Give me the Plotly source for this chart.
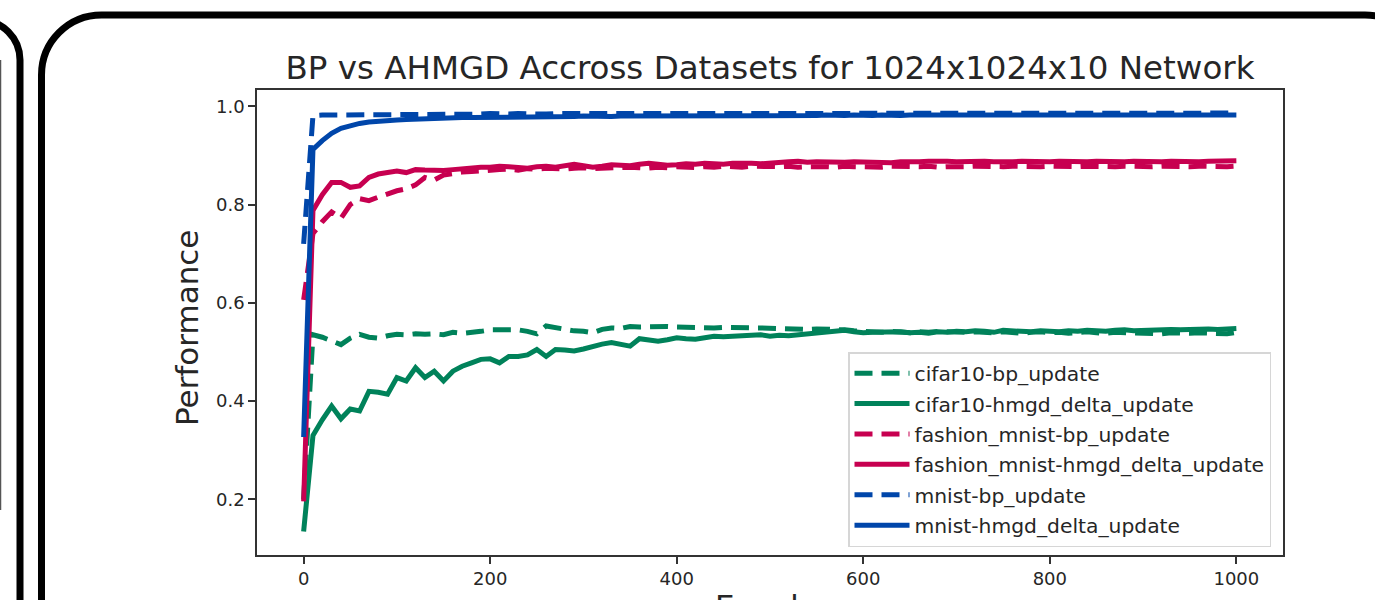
import plotly.graph_objects as go

# ---------------- data ----------------
EPOCHS = list(range(0, 1001, 10))

cifar10_bp = [
    0.200, 0.535, 0.530, 0.522, 0.515, 0.528, 0.536, 0.530, 0.528, 0.533, 0.536,
    0.535, 0.537, 0.536, 0.537, 0.535, 0.540, 0.538, 0.539, 0.542, 0.545,
    0.545, 0.546, 0.545, 0.542, 0.537, 0.553, 0.549, 0.545, 0.543, 0.542,
    0.539, 0.546, 0.549, 0.548, 0.552, 0.551, 0.552, 0.551, 0.552, 0.551,
    0.550, 0.551, 0.550, 0.549, 0.550, 0.549, 0.548, 0.549, 0.549, 0.548,
    0.547, 0.548, 0.547, 0.546, 0.547, 0.547, 0.546, 0.545, 0.543, 0.542,
    0.541, 0.540, 0.542, 0.540, 0.539, 0.541, 0.540, 0.542, 0.541, 0.539,
    0.540, 0.541, 0.540, 0.539, 0.541, 0.540, 0.538, 0.540, 0.541, 0.539,
    0.540, 0.538, 0.539, 0.541, 0.539, 0.538, 0.540, 0.539, 0.538, 0.539,
    0.538, 0.537, 0.539, 0.538, 0.538, 0.539, 0.538, 0.539, 0.537, 0.540,
]
cifar10_hmgd = [
    0.135, 0.330, 0.362, 0.390, 0.364, 0.384, 0.380, 0.420, 0.418, 0.414, 0.448,
    0.441, 0.468, 0.448, 0.461, 0.441, 0.461, 0.471, 0.478, 0.485, 0.486,
    0.478, 0.491, 0.491, 0.494, 0.505, 0.491, 0.505, 0.504, 0.502, 0.506,
    0.512, 0.516, 0.519, 0.515, 0.512, 0.527, 0.524, 0.522, 0.525, 0.529,
    0.527, 0.526, 0.529, 0.532, 0.531, 0.532, 0.533, 0.532, 0.535, 0.532,
    0.534, 0.533, 0.535, 0.536, 0.537, 0.539, 0.541, 0.544, 0.541, 0.539,
    0.540, 0.541, 0.542, 0.541, 0.539, 0.540, 0.538, 0.541, 0.540, 0.542,
    0.541, 0.543, 0.542, 0.540, 0.544, 0.543, 0.542, 0.541, 0.543, 0.542,
    0.541, 0.543, 0.542, 0.544, 0.543, 0.542, 0.544, 0.545, 0.543, 0.544,
    0.545, 0.544, 0.546, 0.545, 0.546, 0.545, 0.547, 0.546, 0.548, 0.548,
]
fashion_mnist_bp = [
    0.606, 0.741, 0.765, 0.785, 0.772, 0.800, 0.812, 0.808, 0.815, 0.822, 0.828,
    0.832, 0.840, 0.855, 0.850, 0.860, 0.864, 0.866, 0.867, 0.869, 0.870,
    0.871, 0.872, 0.870, 0.873, 0.872, 0.874, 0.873, 0.872, 0.874, 0.875,
    0.873, 0.874, 0.875, 0.874, 0.876, 0.875, 0.874, 0.876, 0.875, 0.877,
    0.876, 0.875, 0.877, 0.876, 0.878, 0.877, 0.876, 0.878, 0.877, 0.876,
    0.877, 0.878, 0.876, 0.877, 0.878, 0.877, 0.876, 0.878, 0.877, 0.876,
    0.877, 0.876, 0.878, 0.877, 0.876, 0.877, 0.878, 0.876, 0.877, 0.876,
    0.877, 0.878, 0.877, 0.876, 0.877, 0.878, 0.877, 0.876, 0.877, 0.878,
    0.877, 0.876, 0.877, 0.878, 0.877, 0.876, 0.877, 0.878, 0.877, 0.876,
    0.877, 0.878, 0.877, 0.876, 0.877, 0.878, 0.877, 0.876, 0.877, 0.878,
]
fashion_mnist_hmgd = [
    0.196, 0.788, 0.820, 0.845, 0.845, 0.835, 0.838, 0.855, 0.862, 0.866, 0.868,
    0.865, 0.871, 0.870, 0.869, 0.869, 0.871, 0.873, 0.875, 0.876, 0.876,
    0.878, 0.877, 0.876, 0.874, 0.877, 0.878, 0.876, 0.880, 0.882, 0.879,
    0.876, 0.878, 0.881, 0.880, 0.879, 0.882, 0.884, 0.882, 0.880, 0.881,
    0.883, 0.882, 0.884, 0.883, 0.882, 0.884, 0.885, 0.884, 0.883, 0.885,
    0.886, 0.887, 0.888, 0.886, 0.887, 0.886, 0.885, 0.886, 0.887, 0.886,
    0.887, 0.886, 0.885, 0.887, 0.886, 0.887, 0.888, 0.889, 0.888, 0.887,
    0.888, 0.887, 0.888, 0.887, 0.886, 0.887, 0.888, 0.887, 0.886, 0.887,
    0.888, 0.887, 0.886, 0.887, 0.888, 0.887, 0.886, 0.887, 0.888, 0.887,
    0.886, 0.887, 0.888, 0.887, 0.888, 0.887, 0.888, 0.889, 0.888, 0.889,
]
mnist_bp = [
    0.720, 0.981, 0.982, 0.982, 0.983, 0.982, 0.983, 0.983, 0.982, 0.983, 0.983,
    0.984, 0.983, 0.984, 0.983, 0.984, 0.984, 0.983, 0.984, 0.984, 0.985,
    0.984, 0.984, 0.985, 0.984, 0.985, 0.984, 0.985, 0.985, 0.984, 0.985,
    0.985, 0.984, 0.985, 0.985, 0.984, 0.985, 0.985, 0.986, 0.985, 0.985,
    0.985, 0.986, 0.985, 0.985, 0.986, 0.985, 0.986, 0.985, 0.986, 0.985,
    0.986, 0.985, 0.986, 0.986, 0.985, 0.986, 0.986, 0.985, 0.986, 0.986,
    0.985, 0.986, 0.986, 0.985, 0.986, 0.986, 0.986, 0.985, 0.986, 0.986,
    0.986, 0.985, 0.986, 0.986, 0.986, 0.985, 0.986, 0.986, 0.985, 0.986,
    0.986, 0.986, 0.985, 0.986, 0.986, 0.986, 0.985, 0.986, 0.986, 0.986,
    0.985, 0.986, 0.986, 0.986, 0.985, 0.986, 0.986, 0.986, 0.985, 0.986,
]
mnist_hmgd = [
    0.327, 0.912, 0.930, 0.945, 0.955, 0.961, 0.965, 0.968, 0.970, 0.971, 0.972,
    0.973, 0.974, 0.975, 0.975, 0.976, 0.976, 0.977, 0.977, 0.977, 0.978,
    0.978, 0.978, 0.979, 0.978, 0.979, 0.979, 0.978, 0.979, 0.979, 0.980,
    0.979, 0.980, 0.979, 0.980, 0.980, 0.979, 0.980, 0.980, 0.981, 0.980,
    0.980, 0.981, 0.980, 0.981, 0.981, 0.980, 0.981, 0.981, 0.980, 0.981,
    0.981, 0.981, 0.980, 0.981, 0.981, 0.982, 0.981, 0.981, 0.982, 0.981,
    0.981, 0.982, 0.981, 0.981, 0.982, 0.981, 0.982, 0.982, 0.981, 0.982,
    0.982, 0.981, 0.982, 0.982, 0.981, 0.982, 0.982, 0.982, 0.981, 0.982,
    0.982, 0.982, 0.981, 0.982, 0.982, 0.982, 0.981, 0.982, 0.982, 0.982,
    0.982, 0.981, 0.982, 0.982, 0.982, 0.982, 0.981, 0.982, 0.982, 0.982,
]

SERIES_NAMES = [
    "cifar10-bp_update", "cifar10-hmgd_delta_update",
    "fashion_mnist-bp_update", "fashion_mnist-hmgd_delta_update",
    "mnist-bp_update", "mnist-hmgd_delta_update",
]
SERIES_VALUES = [cifar10_bp, cifar10_hmgd, fashion_mnist_bp,
                 fashion_mnist_hmgd, mnist_bp, mnist_hmgd]

TITLE = "BP vs AHMGD Accross Datasets for 1024x1024x10 Network"
X_LABEL = "Epochs"
Y_LABEL = "Performance"
X_TICKS = [0, 200, 400, 600, 800, 1000]
Y_TICKS = [0.2, 0.4, 0.6, 0.8, 1.0]

# ---------------- style ----------------
W, H = 1375, 600
PL, PR, PT, PB = 257, 1283, 90, 555  # plot area in pixels
GREEN, RED, BLUE = "#00825A", "#C70050", "#0046AA"
COLORS = [GREEN, GREEN, RED, RED, BLUE, BLUE]
DASHES = ["18px,9px", "solid"] * 3
FONT = "DejaVu Sans"
TXT = "#262626"


def fx(px):
    return (px - PL) / (PR - PL)


def fy(py):
    return (PB - py) / (PB - PT)


fig = go.Figure()
for i, (name, vals) in enumerate(zip(SERIES_NAMES, SERIES_VALUES)):
    n = min(len(EPOCHS), len(vals))
    fig.add_trace(go.Scatter(
        x=EPOCHS[:n], y=vals[:n], mode="lines", name=name,
        legendgroup=name,
        line=dict(color=COLORS[i], width=5, dash=DASHES[i]),
    ))

# ---------------- decorative frames (screenshot borders) ----------------
def pth(points_cmds):
    out = []
    for cmd, pts in points_cmds:
        s = cmd + " " + " ".join(f"{fx(x):.5f},{fy(y):.5f}" for x, y in pts)
        out.append(s)
    return " ".join(out)


k = 0.5523
r2 = 60
x2l, y2t, x2r = 41.5, 15, 1425
frame2 = pth([
    ("M", [(x2l, 720)]),
    ("L", [(x2l, y2t + r2)]),
    ("C", [(x2l, y2t + r2 - k * r2), (x2l + r2 - k * r2, y2t), (x2l + r2, y2t)]),
    ("L", [(x2r - r2, y2t)]),
    ("C", [(x2r - r2 + k * r2, y2t), (x2r, y2t + r2 - k * r2), (x2r, y2t + r2)]),
    ("L", [(x2r, 720)]),
])
r1 = 40
x1r, y1t = 20, 20
frame1 = pth([
    ("M", [(-120, y1t)]),
    ("L", [(x1r - r1, y1t)]),
    ("C", [(x1r - r1 + k * r1, y1t), (x1r, y1t + r1 - k * r1), (x1r, y1t + r1)]),
    ("L", [(x1r, 720)]),
])
shapes = [
    dict(type="path", path=frame2, xref="paper", yref="paper",
         line=dict(color="black", width=7), layer="above"),
    dict(type="path", path=frame1, xref="paper", yref="paper",
         line=dict(color="black", width=7), layer="above"),
    dict(type="line", xref="paper", yref="paper",
         x0=fx(0.5), x1=fx(0.5), y0=fy(60), y1=fy(510),
         line=dict(color="#555555", width=1.5), layer="above"),
]

axis_common = dict(
    showline=True, mirror=True, linecolor="#333333", linewidth=1.5,
    ticks="outside", ticklen=7, tickwidth=1.5, tickcolor="#333333",
    showgrid=False, zeroline=False,
    tickfont=dict(family=FONT, size=18, color=TXT),
)

fig.update_layout(
    width=W, height=H,
    margin=dict(l=PL, r=W - PR, t=PT, b=H - PB),
    paper_bgcolor="white", plot_bgcolor="white",
    font=dict(family=FONT, color=TXT),
    title=dict(text=TITLE, x=fx(770), xref="paper", xanchor="center",
               y=1 - 68 / H, yref="container", yanchor="middle",
               font=dict(family=FONT, size=32.5, color=TXT)),
    xaxis=dict(range=[-50, 1050], tickvals=X_TICKS,
               ticktext=[str(t) for t in X_TICKS], **axis_common),
    yaxis=dict(range=[0.087, 1.033], tickvals=Y_TICKS,
               ticktext=[f"{t:.1f}" for t in Y_TICKS], **axis_common),
    showlegend=True,
    legend=dict(x=fx(848), y=fy(352), xanchor="left", yanchor="top",
                bgcolor="rgba(255,255,255,0.9)", bordercolor="#d6d6d6",
                borderwidth=1.5, font=dict(family=FONT, size=20.3, color=TXT),
                itemwidth=55, tracegroupgap=1, traceorder="grouped"),
    shapes=shapes,
    annotations=[
        dict(text=Y_LABEL, textangle=-90, x=fx(187), y=fy(328),
             xref="paper", yref="paper", xanchor="center", yanchor="middle",
             showarrow=False, font=dict(family=FONT, size=31, color=TXT)),
        dict(text=X_LABEL, x=fx(770), y=fy(586), xref="paper", yref="paper",
             xanchor="center", yanchor="top", showarrow=False,
             font=dict(family=FONT, size=31, color=TXT)),
    ],
)

fig.write_html("out.html")
